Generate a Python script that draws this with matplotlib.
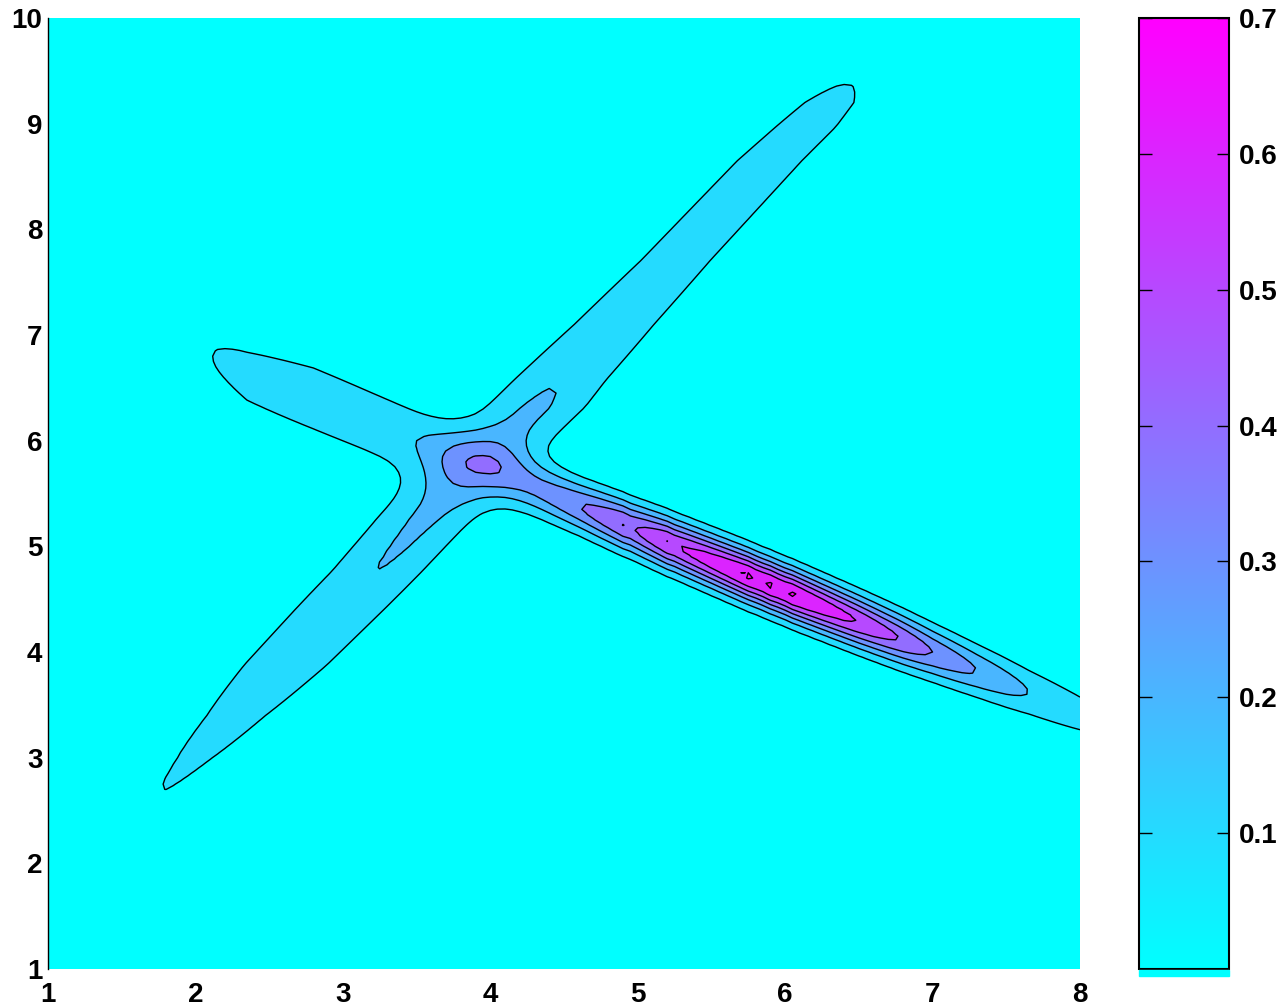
import numpy as np
import matplotlib
matplotlib.use('Agg')
import matplotlib.pyplot as plt
from matplotlib.colors import Normalize
from matplotlib.patches import Rectangle

plt.rcParams['font.family'] = ['Liberation Sans', 'DejaVu Sans']
plt.rcParams['font.weight'] = 'bold'

# main ridge (runs down to the right), knots along x
main_x = [1.85, 2.11, 2.35, 2.8, 3.2, 3.5, 3.68, 3.93, 4.1, 4.3, 4.61, 4.9, 4.95,
          5.0, 5.2, 5.25, 5.3, 5.75, 5.825, 5.9, 5.975, 6.05, 6.49, 6.78, 7.0,
          7.3, 7.65, 8.3, 8.6]
main_amp = [0.05, 0.1, 0.125, 0.15, 0.165, 0.18, 0.19, 0.205, 0.25, 0.31, 0.4, 0.503, 0.49,
            0.51, 0.603, 0.59, 0.605, 0.712, 0.688, 0.712, 0.688, 0.712, 0.6, 0.5, 0.4,
            0.3, 0.2, 0.1, 0.07]
main_sig = [0.34, 0.34, 0.34, 0.32, 0.28, 0.24, 0.22, 0.2, 0.19, 0.18, 0.17, 0.17, 0.17,
            0.17, 0.17, 0.17, 0.17, 0.17, 0.17, 0.17, 0.17, 0.17, 0.17, 0.17, 0.17,
            0.17, 0.175, 0.18, 0.18]
ctr_x = [1.9, 2.11, 2.35, 2.8, 3.2, 3.93, 8.5]
ctr_y = [6.9, 6.8, 6.61, 6.4, 6.17, 5.77, 3.13]

# diagonal ridge (runs up to the right), knots along y
diag_y = [2.4, 2.69, 3.0, 3.4, 3.88, 4.4, 4.77, 5.28, 5.8, 6.32, 6.57, 7.1, 7.71,
          8.65, 8.97, 9.2, 9.38, 9.6]
diag_x = [1.6, 1.78, 1.997, 2.277, 2.613, 2.976, 3.235, 3.565, 3.93, 4.31, 4.47, 4.84, 5.26,
          5.895, 6.14, 6.3, 6.42, 6.6]
diag_amp = [0.05, 0.1, 0.1096, 0.129, 0.165, 0.178, 0.2, 0.215, 0.217, 0.214, 0.195, 0.165, 0.146,
            0.139, 0.136, 0.125, 0.1, 0.05]
diag_sig = [0.22, 0.24, 0.28, 0.28, 0.28, 0.28, 0.26, 0.26, 0.26, 0.27, 0.27, 0.27, 0.27,
            0.27, 0.26, 0.25, 0.22, 0.2]

levels = [0.0, 0.1, 0.2, 0.3, 0.4, 0.5, 0.6, 0.7, 1.0]
cb_ticks = [0.1, 0.2, 0.3, 0.4, 0.5, 0.6, 0.7]

x = np.linspace(1, 8, 141)
y = np.linspace(1, 10, 181)
X, Y = np.meshgrid(x, y)

yc = np.interp(X, ctr_x, ctr_y)
a1 = np.interp(X, main_x, main_amp, left=0.0, right=0.07)
s1 = np.interp(X, main_x, main_sig)
Z = a1 * np.exp(-(Y - yc) ** 2 / (2 * s1 ** 2))

xc = np.interp(Y, diag_y, diag_x)
a2 = np.interp(Y, diag_y, diag_amp, left=0.0, right=0.0)
s2 = np.interp(Y, diag_y, diag_sig)
Z = Z + a2 * np.exp(-(X - xc) ** 2 / (2 * s2 ** 2))

cmap = plt.get_cmap('cool')
norm = Normalize(0.0, 0.7)
band_colors = [cmap(norm(l)) for l in levels[:-1]]

fig = plt.figure(figsize=(12.81, 10.08), dpi=100)
ax = fig.add_axes([48 / 1281, 39 / 1008, 1032 / 1281, 951 / 1008])
ax.contourf(X, Y, Z, levels=levels, colors=band_colors)
ax.contour(X, Y, Z, levels=levels[1:-1], colors='k', linewidths=1.0)
ax.set_xlim(1, 8)
ax.set_ylim(1, 10)
ax.set_xticks(range(1, 9))
ax.set_yticks(range(1, 11))
ax.tick_params(axis='x', length=0, labelsize=20, pad=9)
ax.tick_params(axis='y', length=0, labelsize=20, pad=4)
for side in ['top', 'right', 'bottom']:
    ax.spines[side].set_visible(False)
ax.spines['left'].set_linewidth(1.0)

cax = fig.add_axes([1139 / 1281, 39 / 1008, 90 / 1281, 951 / 1008])
sm = plt.cm.ScalarMappable(norm=norm, cmap=cmap)
cb = fig.colorbar(sm, cax=cax, ticks=cb_ticks)
cb.outline.set_linewidth(1.5)
cax.tick_params(direction='in', length=9, width=1.0, labelsize=20, pad=7,
                left=True, right=True)
cax.set_yticklabels(['0.1', '0.2', '0.3', '0.4', '0.5', '0.6', '0.7'])

# small cyan strip under the colour bar
fig.patches.append(Rectangle((1139 / 1281, 32 / 1008), 90 / 1281, 6 / 1008,
                             transform=fig.transFigure, color='#00ffff', zorder=0))

fig.savefig('out.png', dpi=100)
